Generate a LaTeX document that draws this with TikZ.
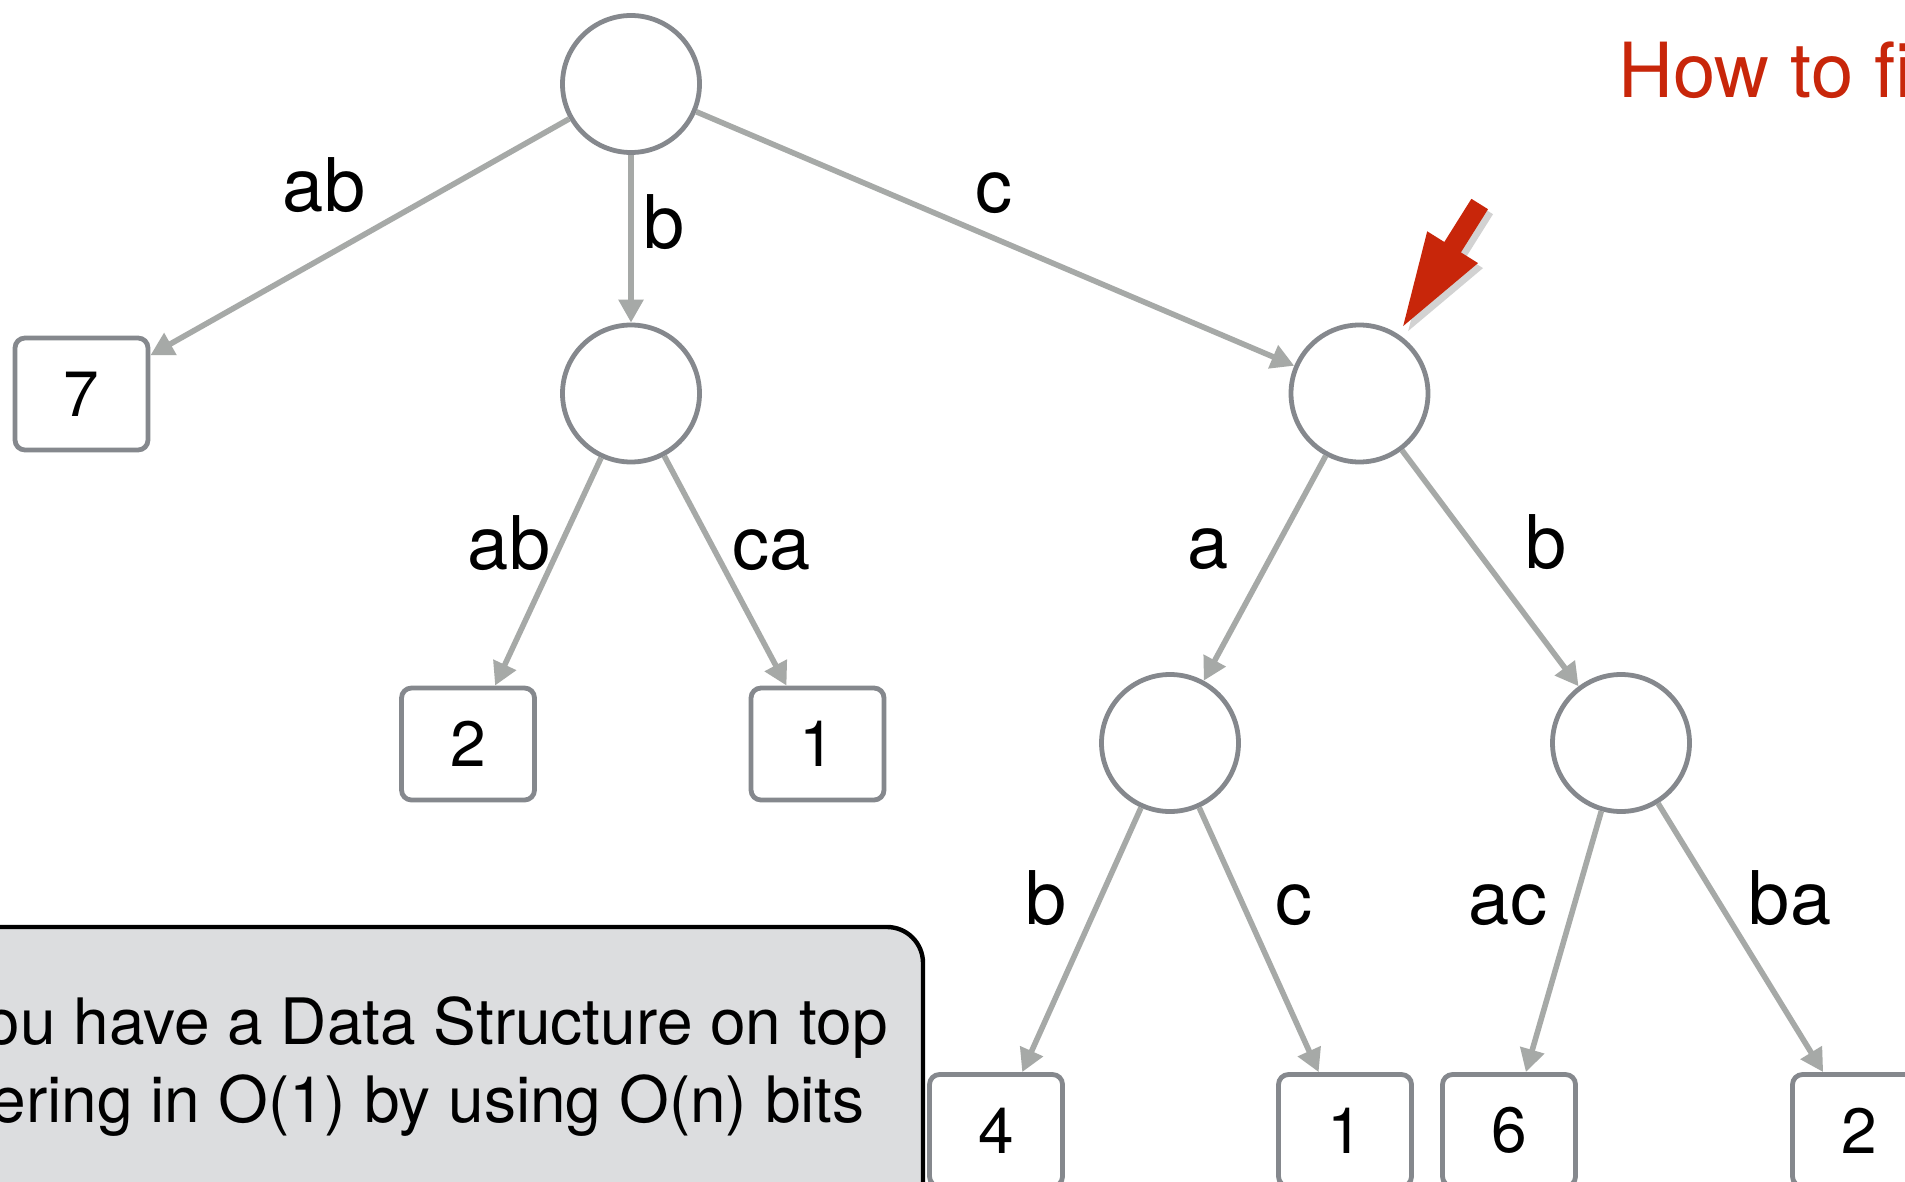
\documentclass[tikz,border=0pt]{standalone}
\usepackage{fontspec}
\setmainfont{TeX Gyre Heros}
\usetikzlibrary{arrows.meta,shadows}
\definecolor{edgegray}{RGB}{166,169,167}
\definecolor{nodegray}{RGB}{133,136,141}
\definecolor{boxfill}{RGB}{220,221,223}
\definecolor{hlred}{RGB}{200,38,10}
\begin{document}
\begin{tikzpicture}[x=0.5pt,y=-0.5pt,
  inode/.style={circle, draw=nodegray, line width=2.4pt, minimum size=68.5pt, inner sep=0pt, fill=white},
  leaf/.style={rectangle, rounded corners=5pt, draw=nodegray, line width=2.4pt, minimum width=66.5pt, minimum height=56pt, inner sep=0pt, font=\fontsize{32}{36}\selectfont, fill=white},
  edge/.style={draw=edgegray, line width=2.8pt, -{Triangle[length=11.5pt,width=12pt]}},
  lbl/.style={anchor=base, inner sep=0pt, font=\fontsize{37}{40}\selectfont},
  note/.style={anchor=base east, inner sep=0pt, font=\fontsize{32}{36}\selectfont},
]
\useasboundingbox (0,0) rectangle (1905,1182);
\clip (0,0) rectangle (1905,1182);
\fill[white] (0,0) rectangle (1905,1182);

% note box (bottom left)
\draw[fill=boxfill, line width=2.2pt, rounded corners=18pt] (-80,927) rectangle (923,1300);
\node[note] (note1) at (888,1044) {ou have a Data Structure on top};
\node[note] (note2) at (865,1122) {ering in O(1) by using O(n) bits};

% title
\node[anchor=base west, inner sep=0pt, text=hlred, font=\fontsize{38}{42}\selectfont] (title) at (1618,98) {How to fi};

% nodes
\node[inode] (root) at (631,84) {};
\node[leaf] (l7) at (81.5,394) {7};
\node[inode] (nb) at (631,393.5) {};
\node[inode] (nc) at (1359.5,393.5) {};
\node[leaf] (l2) at (468,744) {2};
\node[leaf] (l1a) at (817.5,744) {1};
\node[inode] (nca) at (1170,743) {};
\node[inode] (ncb) at (1621,743) {};
\node[leaf] (l4) at (996,1130.5) {4};
\node[leaf] (l1b) at (1345,1130.5) {1};
\node[leaf] (l6) at (1509,1130.5) {6};
\node[leaf] (l2b) at (1859,1130.5) {2};

% edges
\draw[edge] (root) -- (l7);
\draw[edge] (root) -- (nb);
\draw[edge] (root) -- (nc);
\draw[edge] (nb) -- (l2);
\draw[edge] (nb) -- (l1a);
\draw[edge] (nc) -- (nca);
\draw[edge] (nc) -- (ncb);
\draw[edge] (nca) -- (l4);
\draw[edge] (nca) -- (l1b);
\draw[edge] (ncb) -- (l6);
\draw[edge] (ncb) -- (l2b);

% edge labels
\node[lbl] (e1) at (324,212) {ab};
\node[lbl] (e2) at (664,249) {b};
\node[lbl] (e3) at (994,213) {c};
\node[lbl] (e4) at (509,569) {ab};
\node[lbl] (e5) at (772,569) {ca};
\node[lbl] (e6) at (1208,568) {a};
\node[lbl] (e7) at (1546,568) {b};
\node[lbl] (e8) at (1046,924) {b};
\node[lbl] (e9) at (1294,924) {c};
\node[lbl] (e10) at (1508,924) {ac};
\node[lbl] (e11) at (1790,924) {ba};

% red pointer arrow
\fill[hlred, drop shadow={opacity=0.35, shadow xshift=2.5pt, shadow yshift=-2.5pt}]
  (1471.4,198.8) -- (1488,209.2) -- (1460.9,252.4) -- (1478,263.1)
  -- (1403.2,326) -- (1427.2,231.3) -- (1444.3,242) -- cycle;
\end{tikzpicture}
\end{document}
